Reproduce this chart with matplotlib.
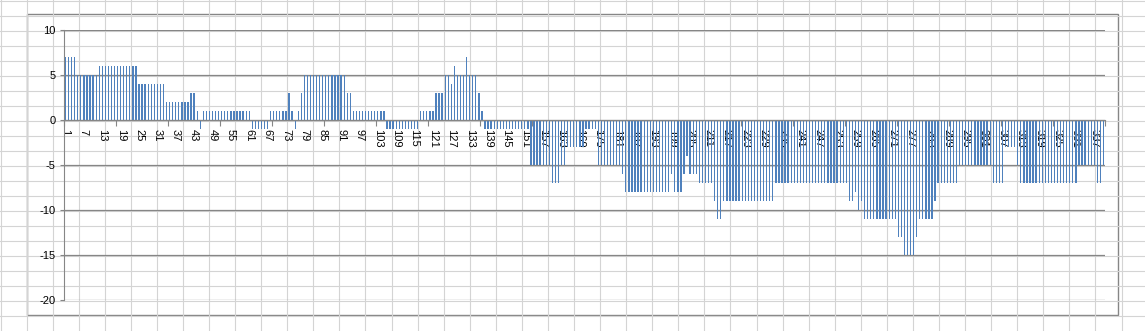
import numpy as np
import matplotlib.pyplot as plt
from matplotlib.patches import Rectangle
from matplotlib.ticker import FixedLocator

plt.rcParams['font.family'] = ['Liberation Sans', 'DejaVu Sans']

# values per category (categories 1..340)
values = (
    [7, 7, 7, 7]
    + [5, 5, 5, 5, 5, 5, 5]
    + [6, 6, 6, 6, 6, 6, 6, 6, 6, 6, 6, 6, 6]
    + [4, 4, 4, 4, 4, 4, 4, 4, 4]
    + [2, 2, 2, 2, 2, 2, 2, 2]
    + [3, 3, 1, -1]
    + [1, 1, 1, 1, 1, 1, 1, 1, 1, 1, 1, 1, 1, 1, 1, 1]
    + [-1, -1, -1, -1, -1, -1]
    + [1, 1, 1, 1, 1, 1, 3, 1, -1, 1, 3]
    + [5, 5, 5, 5, 5, 5, 5, 5, 5, 5, 5, 5, 5, 5]
    + [3, 3]
    + [1, 1, 1, 1, 1, 1, 1, 1, 1, 1, 1]
    + [-1, -1, -1, -1, -1, -1, -1, -1, -1, -1, -1]
    + [1, 1, 1, 1, 1, 3, 3, 3]
    + [5, 5, 4, 6, 5, 5, 5, 7, 5, 5, 5, 3, 1]
    + [-1, -1, -1, -1, -1, -1, -1, -1, -1, -1, -1, -1, -1, -1, -1]
    + [-5, -5, -5, -5, -5, -5, -5, -7, -7, -7, -5, -5]
    + [-3, -3, -3, -3, -3, -3, -1, -1, -1, -1]
    + [-5, -5, -5, -5, -5, -5, -5, -5, -6]
    + [-8, -8, -8, -8, -8, -8, -8, -8, -8, -8, -8, -8, -8, -8, -8]
    + [-6, -8, -8, -8, -6, -4, -6, -6, -6]
    + [-7, -7, -7, -7, -7, -9, -11, -11]
    + [-9, -9, -9, -9, -9, -9, -9, -9, -9, -9, -9, -9, -9, -9, -9, -9, -9]
    + [-7, -7, -7, -7, -7, -7, -7, -7, -7, -7, -7, -7,
       -7, -7, -7, -7, -7, -7, -7, -7, -7, -7, -7, -7]
    + [-9, -9, -8, -10, -9]
    + [-11, -11, -11, -11, -11, -11, -11, -11, -11, -11, -11]
    + [-13, -13, -15, -15, -15, -15, -13]
    + [-11, -11, -11, -11, -11, -9]
    + [-7, -7, -7, -7, -7, -7, -7]
    + [-5, -5, -5, -5, -5, -5, -5, -5, -5, -5, -5]
    + [-7, -7, -7, -7, -3, -3, -3, -3, -5]
    + [-7, -7, -7, -7, -7, -7, -7, -7, -7, -7, -7, -7, -7, -7, -7, -7, -7, -7, -7]
    + [-5, -5, -5, -5, -5, -5, -7, -7, -5]
)
categories = np.arange(1, len(values) + 1)
tick_labels = [str(c) for c in categories[::6]]
y_ticks = [10, 5, 0, -5, -10, -15, -20]

W, H = 1145, 331
fig = plt.figure(figsize=(W / 100, H / 100), dpi=100)

# spreadsheet cells behind the chart
bg = fig.add_axes([0, 0, 1, 1])
bg.set_xlim(0, W)
bg.set_ylim(H, 0)
bg.axis('off')
for x in np.arange(0.5, W, 26.07):
    bg.axvline(x, color='#d4d4d4', lw=0.8)
for y in np.arange(0.5, H, 15.03):
    bg.axhline(y, color='#d4d4d4', lw=0.8)
bg.add_patch(Rectangle((27, 14), 1091, 301, facecolor='white',
                       edgecolor='#868686', lw=1))

# plot area
left, right, top, bottom = 64, 1105, 29.5, 300
ax = fig.add_axes([left / W, 1 - bottom / H, (right - left) / W, (bottom - top) / H])
ax.patch.set_alpha(0)
ax.bar(categories, values, width=0.42, color='#4f81bd', zorder=3)
ax.set_xlim(0.5, len(values) + 0.5)
ax.set_ylim(-20, 10)

for v in y_ticks:
    ax.axhline(v, color='#868686', lw=0.9, zorder=1)

for s in ['top', 'right']:
    ax.spines[s].set_visible(False)
ax.spines['left'].set_color('#868686')
ax.spines['bottom'].set_position(('data', 0))
ax.spines['bottom'].set_color('#868686')
ax.spines['bottom'].set_zorder(4)

ax.set_yticks(y_ticks)
ax.set_yticklabels([str(v) for v in y_ticks])
ax.tick_params(axis='y', length=3, width=0.8, color='#868686', pad=3, labelsize=8)

ax.set_xticks(categories[::6])
ax.set_xticklabels(tick_labels, rotation=270, fontsize=8, va='top', ha='center')
ax.xaxis.set_minor_locator(FixedLocator(np.arange(0.5, len(values) + 1, 17)))
ax.tick_params(axis='x', which='major', length=0, pad=7)
ax.tick_params(axis='x', which='minor', length=4, width=0.8, color='#868686')
for t in ax.get_xticklabels():
    t.set_zorder(5)

fig.savefig('out.png', dpi=100)
